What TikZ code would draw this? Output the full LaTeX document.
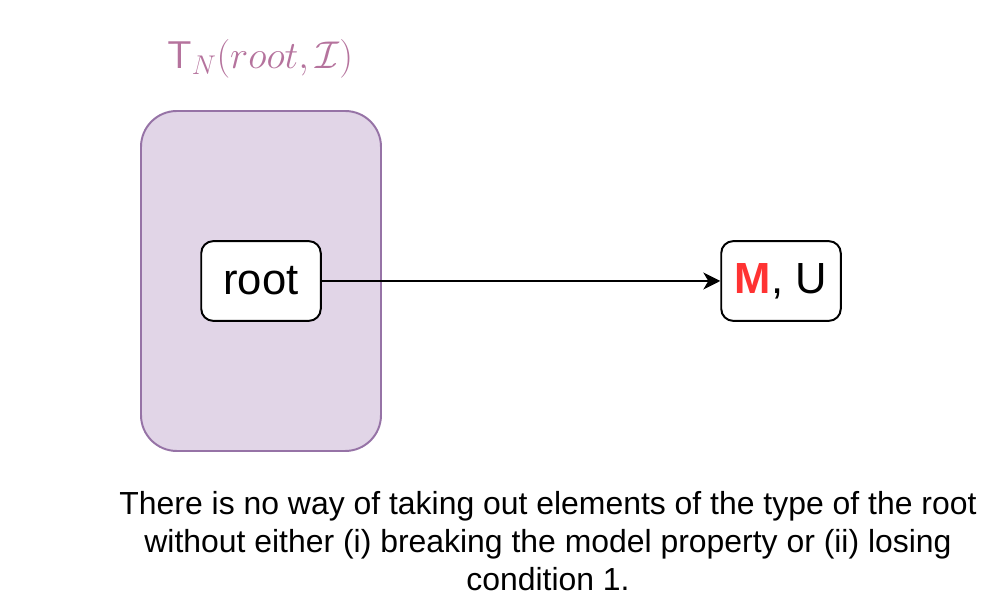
\RequirePackage{fix-cm}
\documentclass[tikz,border=0pt]{standalone}
\usepackage{fontspec}
\setmainfont{Liberation Sans}
\usetikzlibrary{arrows.meta}
\definecolor{typefill}{HTML}{E1D5E7}
\definecolor{typeline}{HTML}{9673A6}
\definecolor{typetext}{HTML}{B5739D}
\definecolor{markred}{HTML}{FF3333}
\tikzset{%
  elem/.style={draw, line width=1.4pt, rounded corners=8.5pt, fill=white,
               minimum width=85pt, minimum height=56.7pt, inner sep=0pt,
               font=\fontsize{31}{37}\selectfont},
  typebox/.style={draw=typeline, fill=typefill, line width=1.4pt, rounded corners=25.5pt},
}

\begin{document}
\begin{tikzpicture}[x=0.025cm, y=-0.025cm]
    \useasboundingbox (0,0) rectangle (1002,602);

    %the type of the root
    \draw[typebox] (141,111) rectangle (381,451);
    \node[text=typetext, font=\fontsize{27.5}{33}\selectfont] (title) at (260,59) {$\mathsf{T}_N(root,\mathcal{I})$};

    %elements
    \node[elem] (root) at (261,281) {root};
    \node[elem] (mu) at (781,281) {\textcolor{markred}{\textbf{M}}, U};
    \draw[line width=1.4pt, -{Stealth[length=12pt, width=12pt, inset=3.5pt]}] (root) -- (mu);

    % note below
    \node[align=center, font=\fontsize{22.7}{26.9}\selectfont] (note) at (548,541)
        {There is no way of taking out elements of the type of the root\\
         without either (i) breaking the model property or (ii) losing\\
         condition 1.};
\end{tikzpicture}
\end{document}
